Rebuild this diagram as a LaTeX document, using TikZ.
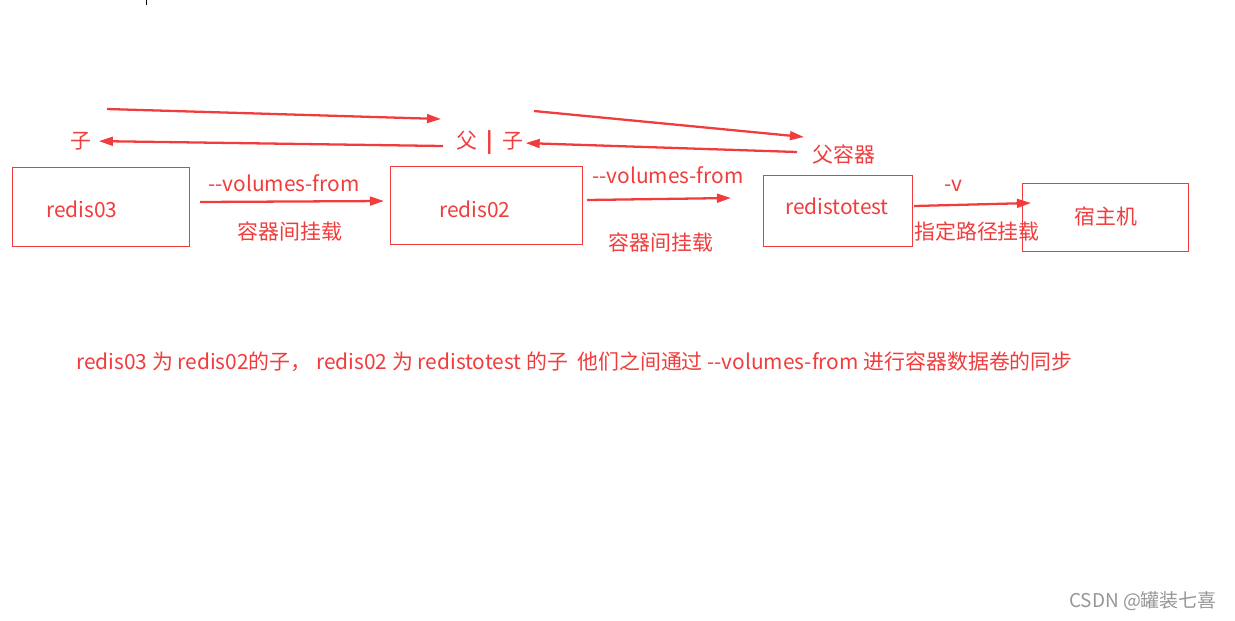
\documentclass[tikz,border=0pt]{standalone}
\usepackage{fontspec}
\setmainfont{Noto Sans CJK SC}
\usetikzlibrary{arrows.meta}
\definecolor{redline}{RGB}{240,60,60}
\definecolor{marktext}{RGB}{150,150,150}

\begin{document}
\begin{tikzpicture}[x=0.02cm, y=-0.02cm,
    box/.style={draw=redline, line width=0.6pt, inner sep=0pt, anchor=north west},
    lbl/.style={text=redline, font=\fontsize{11.9}{14}\selectfont, inner sep=0pt},
    arr/.style={draw=redline, line width=1.3pt, -{Triangle[length=8pt, width=5pt]}}]
    \useasboundingbox (0,0) rectangle (1235,620);
    \draw[black, line width=0.4pt] (146,0) -- (146,5);

    % the four boxes
    \node[box, minimum width=177*0.02cm, minimum height=79*0.02cm] (r03) at (12,167) {};
    \node[box, minimum width=192*0.02cm, minimum height=78*0.02cm] (r02) at (390,166) {};
    \node[box, minimum width=149*0.02cm, minimum height=71*0.02cm] (rtt) at (763,175) {};
    \node[box, minimum width=166*0.02cm, minimum height=68*0.02cm] (host) at (1022,183) {};
    \node[lbl] (t03) at (82,209) {redis03};
    \node[lbl] (t02) at (475,209) {redis02};
    \node[lbl] (ttt) at (837,206) {redistotest};
    \node[lbl] (thost) at (1106,216) {宿主机};

    % mounts between boxes
    \coordinate (a1s) at (200,202);
    \coordinate (a1e) at (384,201);
    \draw[arr] (a1s) -- (a1e);
    \node[lbl] (vf1) at (284,183) {-{}-volumes-from};
    \node[lbl] (cn1) at (290,231) {容器间挂载};

    \coordinate (a2s) at (587,200);
    \coordinate (a2e) at (731,198);
    \draw[arr] (a2s) -- (a2e);
    \node[lbl] (vf2) at (668,175) {-{}-volumes-from};
    \node[lbl] (cn2) at (661,242) {容器间挂载};

    \coordinate (a3s) at (914,206);
    \coordinate (a3e) at (1031,203);
    \draw[arr] (a3s) -- (a3e);
    \node[lbl] (v3) at (953,186) {-v};
    \node[lbl] (pth) at (977,232) {指定路径挂载};

    % parent / child
    \node[lbl] (zi1) at (81,141) {子};
    \node[lbl] (fz) at (490,143) {父\ \ \textbf{|}\ \ 子};
    \node[lbl] (fu) at (844,155) {父容器};
    \coordinate (b1s) at (107,109);
    \coordinate (b1e) at (441,119);
    \draw[arr] (b1s) -- (b1e);
    \coordinate (b2s) at (534,111);
    \coordinate (b2e) at (804,137);
    \draw[arr] (b2s) -- (b2e);
    \coordinate (c1s) at (443,146);
    \draw[arr, shorten >=4pt] (c1s) -- (zi1.east);
    \coordinate (c2s) at (797,152);
    \draw[arr, shorten >=1pt] (c2s) -- (fz.east);

    \node[lbl, anchor=west] (note) at (76,362) {redis03 为 redis02的子， redis02 为 redistotest 的子\ \ 他们之间通过 -{}-volumes-from 进行容器数据卷的同步};
    \node[text=marktext, font=\fontsize{10.8}{12}\selectfont, inner sep=0pt] (csdn) at (1143,601) {CSDN @罐装七喜};
\end{tikzpicture}
\end{document}
